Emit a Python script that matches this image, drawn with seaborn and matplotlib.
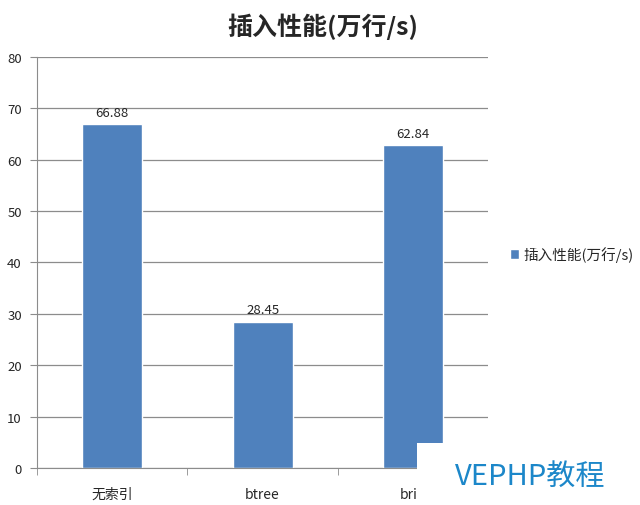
import matplotlib
matplotlib.use("Agg")
import matplotlib.pyplot as plt
import seaborn as sns
import pandas as pd

categories = ["无索引", "btree", "brin"]
values = [66.88, 28.45, 62.84]
series_name = "插入性能(万行/s)"

sns.set_style("white")
plt.rcParams['font.family'] = ['Noto Sans CJK SC', 'DejaVu Sans']

df = pd.DataFrame({"idx": categories, "v": values, "s": series_name})

fig = plt.figure(figsize=(6.4, 5.06), dpi=100)
ax = fig.add_axes([0.058, 0.0731, 0.7045, 0.8123])

sns.barplot(data=df, x="idx", y="v", hue="s", palette=["#4F81BD"],
            width=0.4, ax=ax, saturation=1, legend=True)

ax.set_ylim(0, 80)
ax.set_xlim(-0.5, 2.5)
ax.set_yticks(range(0, 81, 10))
ax.grid(axis="y", color="#8c8c8c", linewidth=0.9)
ax.set_axisbelow(True)
ax.set_xlabel("")
ax.set_ylabel("")
for side in ["top", "right"]:
    ax.spines[side].set_visible(False)
for side in ["left", "bottom"]:
    ax.spines[side].set_color("#8c8c8c")
ax.tick_params(axis="y", left=True, length=5, color="#8c8c8c", labelsize=9.5, pad=6)
ax.tick_params(axis="x", bottom=False, labelsize=10, pad=10)
ax.set_xticks([-0.5, 0.5, 1.5, 2.5], minor=True)
ax.tick_params(axis="x", which="minor", bottom=True, length=5, color="#8c8c8c")

for c in ax.containers:
    ax.bar_label(c, fmt="%.2f", padding=4, fontsize=9.5)

leg = ax.legend(loc="center left", bbox_to_anchor=(1.02, 0.52), frameon=False,
                fontsize=10.5, handlelength=0.6, handleheight=0.6, handletextpad=0.3)

fig.text(0.505, 0.947, series_name, ha="center", va="center",
         fontsize=18, fontweight="bold")

# watermark box over the bottom right
fig.patches.append(plt.Rectangle((0.652, 0.0), 0.348, 0.123, transform=fig.transFigure,
                                 facecolor="white", edgecolor="none", zorder=10))
fig.text(0.828, 0.057, "VEPHP教程", ha="center", va="center", fontsize=21,
         fontweight="medium", color="#1c87c9", zorder=11)

fig.savefig("out.png", dpi=100)
